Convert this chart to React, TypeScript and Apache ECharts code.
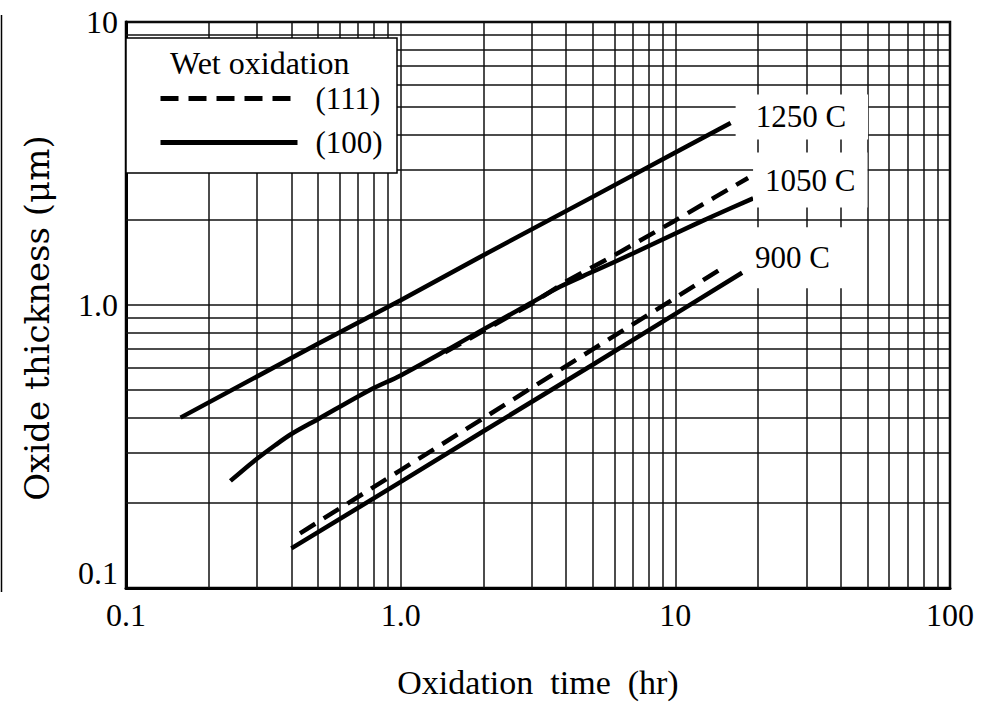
import React, { useEffect, useRef } from 'react';
import * as echarts from 'echarts';

const FONT = "'Liberation Serif', 'Times New Roman', serif";
const WIDE_FONT = "'DejaVu Serif', 'Liberation Serif', serif";

// tick labels
const xTickLabels = ['0.1', '1.0', '10', '100'];
const yTickLabels = ['0.1', '1.0', '10'];

// minor log grid values
const xMinorGrid = [0.2, 0.3, 0.4, 0.5, 0.6, 0.7, 0.8, 0.9, 2, 3, 4, 5, 6, 7, 8, 9, 20, 30, 40, 50, 60, 70, 80, 90];
const yMinorGrid = [0.2, 0.3, 0.4, 0.5, 0.6, 0.7, 0.8, 0.9, 2, 3, 4, 5, 6, 7, 8, 9];

// 1250 C (100)
const t1250_100 = [0.158, 0.5, 1, 2, 5, 10, 15.9];
const d1250_100 = [0.40, 0.73, 1.04, 1.50, 2.41, 3.46, 4.4];

// 1050 C (100)
const t1050_100 = [0.24, 0.29, 0.35, 0.4, 0.5, 0.77, 1.0, 1.5, 2, 3, 3.8, 5, 7, 10, 14, 19.2];
const d1050_100 = [0.239, 0.279, 0.32, 0.35, 0.395, 0.50, 0.564, 0.70, 0.82, 1.02, 1.16, 1.31, 1.52, 1.79, 2.08, 2.38];

// 1050 C (111)
const t1050_111 = [1.45, 2, 3, 4, 6, 10, 14, 18.4];
const d1050_111 = [0.68, 0.81, 1.01, 1.21, 1.50, 1.99, 2.41, 2.81];

// 900 C (100)
const t900_100 = [0.4, 1, 2, 5, 10, 17.5];
const d900_100 = [0.138, 0.237, 0.358, 0.615, 0.93, 1.30];

// 900 C (111)
const t900_111 = [0.43, 1, 2, 5, 10, 14.8];
const d900_111 = [0.156, 0.261, 0.398, 0.697, 1.06, 1.35];

const endLabel = (text: string, offset: number[], padding: number[]) => ({
  show: true,
  formatter: text,
  distance: 5,
  offset,
  padding,
  backgroundColor: '#fff',
  color: '#000',
  fontFamily: FONT,
  fontSize: 31,
});

const pairs = (ts: number[], ds: number[]) => ts.map((t, i) => [t, ds[i]]);

const decadeIndex = (v: number) => Math.round(Math.log10(v));

export default function App() {
  const ref = useRef<HTMLDivElement>(null);
  useEffect(() => {
    if (!ref.current) return;
    const chart = echarts.init(ref.current, null, { renderer: 'svg' });
    const solid = { color: '#000', width: 4.5, type: 'solid' as const };
    const dashed = { color: '#000', width: 4.5, type: [18, 10] as any };
    const gridLine = { color: '#111', width: 1.5, type: 'solid' as const };
    const option: any = {
      animation: false,
      backgroundColor: '#fff',
      grid: {
        left: 126, right: 46, top: 22, bottom: 115,
        containLabel: false,
        outerBoundsMode: 'none',
        show: true,
        backgroundColor: '#fff',
        borderColor: '#000',
        borderWidth: 2.5,
      },
      xAxis: {
        type: 'log',
        logBase: 10,
        min: 0.1,
        max: 100,
        name: 'Oxidation  time  (hr)',
        nameLocation: 'middle',
        nameGap: 77,
        nameTextStyle: { fontFamily: FONT, fontSize: 34, color: '#000' },
        axisLine: { show: true, lineStyle: { color: '#000', width: 3 } },
        axisTick: { show: false },
        axisLabel: {
          margin: 11,
          fontFamily: FONT, fontSize: 32, color: '#000',
          formatter: (v: number) => xTickLabels[decadeIndex(v) + 1] ?? '',
        },
        splitLine: { show: true, lineStyle: gridLine },
        minorTick: { show: false },
        minorSplitLine: { show: false },
      },
      yAxis: {
        type: 'log',
        logBase: 10,
        min: 0.1,
        max: 10,
        name: 'Oxide thickness (μm)',
        nameLocation: 'middle',
        nameGap: 72,
        nameTextStyle: { fontFamily: WIDE_FONT, fontSize: 34, color: '#000', padding: [0, 26, 0, 0] },
        axisLine: { show: true, lineStyle: { color: '#000', width: 3 } },
        axisTick: { show: false },
        axisLabel: {
          margin: 8,
          fontFamily: FONT, fontSize: 32, color: '#000',
          formatter: (v: number) => {
            const i = decadeIndex(v) + 1;
            if (i === 0) return '{low|' + yTickLabels[0] + '}';
            return yTickLabels[i] ?? '';
          },
          rich: {
            low: { fontFamily: FONT, fontSize: 32, color: '#000', padding: [0, 0, 30, 0] },
          },
        },
        splitLine: { show: true, lineStyle: gridLine },
        minorTick: { show: false },
        minorSplitLine: { show: false },
      },
      legend: {
        show: true,
        data: ['(111)', '(100)'],
        orient: 'vertical',
        left: 126,
        top: 38,
        padding: [45, 14, 17, 32],
        itemWidth: 137,
        itemHeight: 14,
        itemGap: 13,
        z: 6,
        selectedMode: false,
        itemStyle: { opacity: 0 },
        lineStyle: { width: 5 },
        textStyle: { fontFamily: FONT, fontSize: 31, color: '#000', padding: [0, 0, 0, 13] },
      },
      graphic: [
        {
          type: 'rect', z: 5,
          shape: { x: 126, y: 38, width: 271, height: 135 },
          style: { fill: '#fff', stroke: '#000', lineWidth: 1.5 },
        },
        {
          type: 'text', z: 7, x: 170, y: 63,
          style: { text: 'Wet oxidation', fontFamily: FONT, fontSize: 32, fill: '#000', verticalAlign: 'middle' },
        },
        {
          type: 'line', z: 7,
          shape: { x1: 1.5, y1: 15, x2: 1.5, y2: 592 },
          style: { stroke: '#000', lineWidth: 1.5 },
        },
      ],
      series: [
        {
          name: 'grid', type: 'line', z: 1, silent: true,
          data: [[0.1, 0.1]], symbol: 'none', lineStyle: { opacity: 0 },
          markLine: {
            z: 1,
            silent: true,
            symbol: ['none', 'none'],
            label: { show: false },
            emphasis: { disabled: true },
            lineStyle: gridLine,
            data: [
              ...xMinorGrid.map((v) => ({ xAxis: v })),
              ...yMinorGrid.map((v) => ({ yAxis: v })),
            ],
          },
        },
        {
          name: '(100)', type: 'line', z: 3, symbol: 'none', lineStyle: solid, color: '#000',
          data: pairs(t1250_100, d1250_100),
          endLabel: endLabel('1250 C', [0, -6], [9, 22, 5, 20]),
        },
        {
          name: '(100)', type: 'line', z: 3, symbol: 'none', lineStyle: solid, color: '#000', smooth: 0.3,
          data: pairs(t1050_100, d1050_100),
        },
        {
          name: '(111)', type: 'line', z: 3, symbol: 'none', lineStyle: dashed, color: '#000',
          data: pairs(t1050_111, d1050_111),
          endLabel: endLabel('1050 C', [0, 2], [12, 12, 12, 12]),
        },
        {
          name: '(100)', type: 'line', z: 3, symbol: 'none', lineStyle: solid, color: '#000',
          data: pairs(t900_100, d900_100),
          endLabel: endLabel('900 C', [0, -15], [18, 20, 12, 8]),
        },
        {
          name: '(111)', type: 'line', z: 3, symbol: 'none', lineStyle: dashed, color: '#000',
          data: pairs(t900_111, d900_111),
        },
      ],
    };
    chart.setOption(option);
    return () => chart.dispose();
  }, []);
  return (
    <div
      ref={ref}
      style={{ position: 'absolute', left: 0, top: 0, width: 996, height: 703, background: '#fff' }}
    />
  );
}
